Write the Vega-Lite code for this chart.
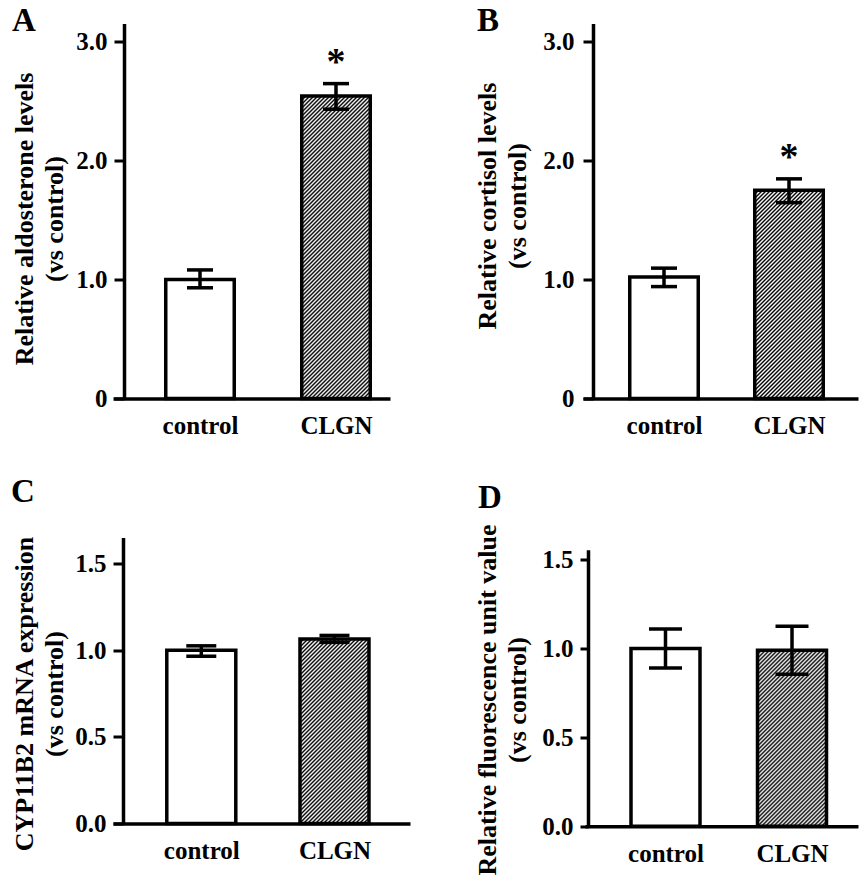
{
"$schema":"https://vega.github.io/schema/vega-lite/v6.json",
"background":"white",
"padding":{"left":11,"top":4.5,"right":5,"bottom":5},
"params":[{"name":"hatch","value":[
{"offset":0,"color":"#000"},{"offset":0.005,"color":"#fff"},{"offset":0.01,"color":"#000"},{"offset":0.015,"color":"#fff"},{"offset":0.02,"color":"#000"},{"offset":0.025,"color":"#fff"},{"offset":0.03,"color":"#000"},{"offset":0.035,"color":"#fff"},{"offset":0.04,"color":"#000"},{"offset":0.045,"color":"#fff"},
{"offset":0.05,"color":"#000"},{"offset":0.055,"color":"#fff"},{"offset":0.06,"color":"#000"},{"offset":0.065,"color":"#fff"},{"offset":0.07,"color":"#000"},{"offset":0.075,"color":"#fff"},{"offset":0.08,"color":"#000"},{"offset":0.085,"color":"#fff"},{"offset":0.09,"color":"#000"},{"offset":0.095,"color":"#fff"},
{"offset":0.1,"color":"#000"},{"offset":0.105,"color":"#fff"},{"offset":0.11,"color":"#000"},{"offset":0.115,"color":"#fff"},{"offset":0.12,"color":"#000"},{"offset":0.125,"color":"#fff"},{"offset":0.13,"color":"#000"},{"offset":0.135,"color":"#fff"},{"offset":0.14,"color":"#000"},{"offset":0.145,"color":"#fff"},
{"offset":0.15,"color":"#000"},{"offset":0.155,"color":"#fff"},{"offset":0.16,"color":"#000"},{"offset":0.165,"color":"#fff"},{"offset":0.17,"color":"#000"},{"offset":0.175,"color":"#fff"},{"offset":0.18,"color":"#000"},{"offset":0.185,"color":"#fff"},{"offset":0.19,"color":"#000"},{"offset":0.195,"color":"#fff"},
{"offset":0.2,"color":"#000"},{"offset":0.205,"color":"#fff"},{"offset":0.21,"color":"#000"},{"offset":0.215,"color":"#fff"},{"offset":0.22,"color":"#000"},{"offset":0.225,"color":"#fff"},{"offset":0.23,"color":"#000"},{"offset":0.235,"color":"#fff"},{"offset":0.24,"color":"#000"},{"offset":0.245,"color":"#fff"},
{"offset":0.25,"color":"#000"},{"offset":0.255,"color":"#fff"},{"offset":0.26,"color":"#000"},{"offset":0.265,"color":"#fff"},{"offset":0.27,"color":"#000"},{"offset":0.275,"color":"#fff"},{"offset":0.28,"color":"#000"},{"offset":0.285,"color":"#fff"},{"offset":0.29,"color":"#000"},{"offset":0.295,"color":"#fff"},
{"offset":0.3,"color":"#000"},{"offset":0.305,"color":"#fff"},{"offset":0.31,"color":"#000"},{"offset":0.315,"color":"#fff"},{"offset":0.32,"color":"#000"},{"offset":0.325,"color":"#fff"},{"offset":0.33,"color":"#000"},{"offset":0.335,"color":"#fff"},{"offset":0.34,"color":"#000"},{"offset":0.345,"color":"#fff"},
{"offset":0.35,"color":"#000"},{"offset":0.355,"color":"#fff"},{"offset":0.36,"color":"#000"},{"offset":0.365,"color":"#fff"},{"offset":0.37,"color":"#000"},{"offset":0.375,"color":"#fff"},{"offset":0.38,"color":"#000"},{"offset":0.385,"color":"#fff"},{"offset":0.39,"color":"#000"},{"offset":0.395,"color":"#fff"},
{"offset":0.4,"color":"#000"},{"offset":0.405,"color":"#fff"},{"offset":0.41,"color":"#000"},{"offset":0.415,"color":"#fff"},{"offset":0.42,"color":"#000"},{"offset":0.425,"color":"#fff"},{"offset":0.43,"color":"#000"},{"offset":0.435,"color":"#fff"},{"offset":0.44,"color":"#000"},{"offset":0.445,"color":"#fff"},
{"offset":0.45,"color":"#000"},{"offset":0.455,"color":"#fff"},{"offset":0.46,"color":"#000"},{"offset":0.465,"color":"#fff"},{"offset":0.47,"color":"#000"},{"offset":0.475,"color":"#fff"},{"offset":0.48,"color":"#000"},{"offset":0.485,"color":"#fff"},{"offset":0.49,"color":"#000"},{"offset":0.495,"color":"#fff"},
{"offset":0.5,"color":"#000"},{"offset":0.505,"color":"#fff"},{"offset":0.51,"color":"#000"},{"offset":0.515,"color":"#fff"},{"offset":0.52,"color":"#000"},{"offset":0.525,"color":"#fff"},{"offset":0.53,"color":"#000"},{"offset":0.535,"color":"#fff"},{"offset":0.54,"color":"#000"},{"offset":0.545,"color":"#fff"},
{"offset":0.55,"color":"#000"},{"offset":0.555,"color":"#fff"},{"offset":0.56,"color":"#000"},{"offset":0.565,"color":"#fff"},{"offset":0.57,"color":"#000"},{"offset":0.575,"color":"#fff"},{"offset":0.58,"color":"#000"},{"offset":0.585,"color":"#fff"},{"offset":0.59,"color":"#000"},{"offset":0.595,"color":"#fff"},
{"offset":0.6,"color":"#000"},{"offset":0.605,"color":"#fff"},{"offset":0.61,"color":"#000"},{"offset":0.615,"color":"#fff"},{"offset":0.62,"color":"#000"},{"offset":0.625,"color":"#fff"},{"offset":0.63,"color":"#000"},{"offset":0.635,"color":"#fff"},{"offset":0.64,"color":"#000"},{"offset":0.645,"color":"#fff"},
{"offset":0.65,"color":"#000"},{"offset":0.655,"color":"#fff"},{"offset":0.66,"color":"#000"},{"offset":0.665,"color":"#fff"},{"offset":0.67,"color":"#000"},{"offset":0.675,"color":"#fff"},{"offset":0.68,"color":"#000"},{"offset":0.685,"color":"#fff"},{"offset":0.69,"color":"#000"},{"offset":0.695,"color":"#fff"},
{"offset":0.7,"color":"#000"},{"offset":0.705,"color":"#fff"},{"offset":0.71,"color":"#000"},{"offset":0.715,"color":"#fff"},{"offset":0.72,"color":"#000"},{"offset":0.725,"color":"#fff"},{"offset":0.73,"color":"#000"},{"offset":0.735,"color":"#fff"},{"offset":0.74,"color":"#000"},{"offset":0.745,"color":"#fff"},
{"offset":0.75,"color":"#000"},{"offset":0.755,"color":"#fff"},{"offset":0.76,"color":"#000"},{"offset":0.765,"color":"#fff"},{"offset":0.77,"color":"#000"},{"offset":0.775,"color":"#fff"},{"offset":0.78,"color":"#000"},{"offset":0.785,"color":"#fff"},{"offset":0.79,"color":"#000"},{"offset":0.795,"color":"#fff"},
{"offset":0.8,"color":"#000"},{"offset":0.805,"color":"#fff"},{"offset":0.81,"color":"#000"},{"offset":0.815,"color":"#fff"},{"offset":0.82,"color":"#000"},{"offset":0.825,"color":"#fff"},{"offset":0.83,"color":"#000"},{"offset":0.835,"color":"#fff"},{"offset":0.84,"color":"#000"},{"offset":0.845,"color":"#fff"},
{"offset":0.85,"color":"#000"},{"offset":0.855,"color":"#fff"},{"offset":0.86,"color":"#000"},{"offset":0.865,"color":"#fff"},{"offset":0.87,"color":"#000"},{"offset":0.875,"color":"#fff"},{"offset":0.88,"color":"#000"},{"offset":0.885,"color":"#fff"},{"offset":0.89,"color":"#000"},{"offset":0.895,"color":"#fff"},
{"offset":0.9,"color":"#000"},{"offset":0.905,"color":"#fff"},{"offset":0.91,"color":"#000"},{"offset":0.915,"color":"#fff"},{"offset":0.92,"color":"#000"},{"offset":0.925,"color":"#fff"},{"offset":0.93,"color":"#000"}
]}],
"config":{
"font":"Liberation Serif",
"view":{"stroke":null},
"axis":{"labelFont":"Liberation Serif","labelFontWeight":"bold","labelFontSize":25,"labelColor":"black","titleFont":"Liberation Serif","titleFontWeight":"bold","titleFontSize":26,"titleColor":"black","domainColor":"black","domainWidth":3.5,"tickColor":"black","tickWidth":3,"grid":false},
"axisX":{"ticks":false,"labelPadding":35,"labelBaseline":"alphabetic","labelAngle":0,"title":null},
"axisY":{"labelPadding":7,"titleAngle":-90,"titleAlign":"center","titleBaseline":"alphabetic","titleLineHeight":30},
"title":{"font":"Liberation Serif","fontSize":33,"fontWeight":"bold","color":"black","anchor":"start","frame":"group","baseline":"alphabetic"}
},
"data":{"values":[
{"panel":"A","group":"control","mean":1.0,"lo":0.93,"hi":1.08,"sig":""},
{"panel":"A","group":"CLGN","mean":2.54,"lo":2.43,"hi":2.645,"sig":"*"},
{"panel":"B","group":"control","mean":1.02,"lo":0.94,"hi":1.095,"sig":""},
{"panel":"B","group":"CLGN","mean":1.75,"lo":1.645,"hi":1.845,"sig":"*"},
{"panel":"C","group":"control","mean":1.0,"lo":0.965,"hi":1.025,"sig":""},
{"panel":"C","group":"CLGN","mean":1.065,"lo":1.045,"hi":1.085,"sig":""},
{"panel":"D","group":"control","mean":1.0,"lo":0.89,"hi":1.11,"sig":""},
{"panel":"D","group":"CLGN","mean":0.99,"lo":0.855,"hi":1.125,"sig":""}
]},
"columns":2,
"align":"none",
"bounds":"flush",
"spacing":{"row":139,"column":173},
"concat":[
{
"title":{"text":"A","dx":-101,"offset":-14.5},
"width":297,"height":375,
"transform":[{"filter":"datum.panel==='A'"}],
"encoding":{"x":{"field":"group","type":"nominal","scale":{"type":"point","domain":["control","CLGN"],"range":[0,277],"padding":0.5184,"align":0.617}}},
"layer":[
{"transform":[{"filter":"datum.group==='control'"}],"mark":{"type":"bar","width":68.5,"fill":"white","stroke":"black","strokeWidth":3.5},
 "encoding":{"y":{"field":"mean","type":"quantitative","scale":{"domain":[0,3.15],"nice":false},
 "axis":{"values":[0,1,2,3],"labelExpr":"datum.value === 0 ? '0' : format(datum.value, '.1f')","offset":-11,"tickSize":10,"title":["Relative aldosterone levels","(vs control)"],"titleX":-91.5,"titleY":195}}}},
{"transform":[{"filter":"datum.group==='CLGN'"}],"mark":{"type":"bar","width":68.5,"fill":{"expr":"{gradient:'linear',x1:0,y1:0,x2:0.28501,y2:1.25819,stops:hatch}"},"stroke":"black","strokeWidth":3.5},
 "encoding":{"y":{"field":"mean","type":"quantitative"}}},
{"mark":{"type":"rule","color":"black","strokeWidth":3.5},"encoding":{"y":{"field":"lo","type":"quantitative"},"y2":{"field":"hi"}}},
{"mark":{"type":"tick","orient":"horizontal","size":26,"thickness":3.5,"color":"black","opacity":1},"encoding":{"y":{"field":"lo","type":"quantitative"}}},
{"mark":{"type":"tick","orient":"horizontal","size":26,"thickness":3.5,"color":"black","opacity":1},"encoding":{"y":{"field":"hi","type":"quantitative"}}},
{"transform":[{"filter":"datum.sig==='*'"}],"mark":{"type":"text","font":"Liberation Serif","fontSize":38,"fontWeight":"bold","baseline":"alphabetic","dy":-10,"color":"black"},
 "encoding":{"y":{"field":"hi","type":"quantitative"},"text":{"field":"sig"}}}
]
},
{
"title":{"text":"B","dx":-106,"offset":-14.5},
"width":275,"height":375,
"transform":[{"filter":"datum.panel==='B'"}],
"encoding":{"x":{"field":"group","type":"nominal","scale":{"type":"point","domain":["control","CLGN"],"range":[0,275],"padding":0.6,"align":0.54}}},
"layer":[
{"transform":[{"filter":"datum.group==='control'"}],"mark":{"type":"bar","width":68.5,"fill":"white","stroke":"black","strokeWidth":3.5},
 "encoding":{"y":{"field":"mean","type":"quantitative","scale":{"domain":[0,3.15],"nice":false},
 "axis":{"values":[0,1,2,3],"labelExpr":"datum.value === 0 ? '0' : format(datum.value, '.1f')","offset":-10,"tickSize":10,"labelPadding":9,"title":["Relative cortisol levels","(vs control)"],"titleX":-97.5,"titleY":182}}}},
{"transform":[{"filter":"datum.group==='CLGN'"}],"mark":{"type":"bar","width":68.5,"fill":{"expr":"{gradient:'linear',x1:0,y1:0,x2:0.56987,y2:1.73291,stops:hatch}"},"stroke":"black","strokeWidth":3.5},
 "encoding":{"y":{"field":"mean","type":"quantitative"}}},
{"mark":{"type":"rule","color":"black","strokeWidth":3.5},"encoding":{"y":{"field":"lo","type":"quantitative"},"y2":{"field":"hi"}}},
{"mark":{"type":"tick","orient":"horizontal","size":26,"thickness":3.5,"color":"black","opacity":1},"encoding":{"y":{"field":"lo","type":"quantitative"}}},
{"mark":{"type":"tick","orient":"horizontal","size":26,"thickness":3.5,"color":"black","opacity":1},"encoding":{"y":{"field":"hi","type":"quantitative"}}},
{"transform":[{"filter":"datum.sig==='*'"}],"mark":{"type":"text","font":"Liberation Serif","fontSize":38,"fontWeight":"bold","baseline":"alphabetic","dy":-10,"color":"black"},
 "encoding":{"y":{"field":"hi","type":"quantitative"},"text":{"field":"sig"}}}
]
},
{
"title":{"text":"C","dx":-102,"offset":27},
"width":297,"height":286,
"transform":[{"filter":"datum.panel==='C'"}],
"encoding":{"x":{"field":"group","type":"nominal","scale":{"type":"point","domain":["control","CLGN"],"range":[0,297],"padding":0.6149,"align":0.539}}},
"layer":[
{"transform":[{"filter":"datum.group==='control'"}],"mark":{"type":"bar","width":69,"fill":"white","stroke":"black","strokeWidth":3.5},
 "encoding":{"y":{"field":"mean","type":"quantitative","scale":{"domain":[0,1.65],"nice":false},
 "axis":{"values":[0,0.5,1,1.5],"format":".1f","offset":-10,"tickSize":10,"title":["CYP11B2 mRNA expression","(vs control)"],"titleX":-90.5,"titleY":156}}}},
{"transform":[{"filter":"datum.group==='CLGN'"}],"mark":{"type":"bar","width":69,"fill":{"expr":"{gradient:'linear',x1:0,y1:0,x2:0.71064,y2:1.90122,stops:hatch}"},"stroke":"black","strokeWidth":3.5},
 "encoding":{"y":{"field":"mean","type":"quantitative"}}},
{"mark":{"type":"rule","color":"black","strokeWidth":3.5},"encoding":{"y":{"field":"lo","type":"quantitative"},"y2":{"field":"hi"}}},
{"mark":{"type":"tick","orient":"horizontal","size":30,"thickness":3.5,"color":"black","opacity":1},"encoding":{"y":{"field":"lo","type":"quantitative"}}},
{"mark":{"type":"tick","orient":"horizontal","size":30,"thickness":3.5,"color":"black","opacity":1},"encoding":{"y":{"field":"hi","type":"quantitative"}}}
]
},
{
"title":{"text":"D","dx":-105,"offset":9},
"width":275,"height":288.7,
"transform":[{"filter":"datum.panel==='D'"}],
"encoding":{"x":{"field":"group","type":"nominal","scale":{"type":"point","domain":["control","CLGN"],"range":[2,275],"padding":0.579,"align":0.5495}}},
"layer":[
{"transform":[{"filter":"datum.group==='control'"}],"mark":{"type":"bar","width":69,"fill":"white","stroke":"black","strokeWidth":3.5},
 "encoding":{"y":{"field":"mean","type":"quantitative","scale":{"domain":[0,1.555],"nice":false,"range":[288.7,12.3]},
 "axis":{"values":[0,0.5,1,1.5],"format":".1f","offset":-5,"tickSize":8,"title":["Relative fluorescence unit value","(vs control)"],"titleX":-92.5,"titleY":162}}}},
{"transform":[{"filter":"datum.group==='CLGN'"}],"mark":{"type":"bar","width":69,"fill":{"expr":"{gradient:'linear',x1:0,y1:0,x2:0.77231,y2:1.96995,stops:hatch}"},"stroke":"black","strokeWidth":3.5},
 "encoding":{"y":{"field":"mean","type":"quantitative"}}},
{"mark":{"type":"rule","color":"black","strokeWidth":3.5},"encoding":{"y":{"field":"lo","type":"quantitative"},"y2":{"field":"hi"}}},
{"mark":{"type":"tick","orient":"horizontal","size":33,"thickness":3.5,"color":"black","opacity":1},"encoding":{"y":{"field":"lo","type":"quantitative"}}},
{"mark":{"type":"tick","orient":"horizontal","size":33,"thickness":3.5,"color":"black","opacity":1},"encoding":{"y":{"field":"hi","type":"quantitative"}}}
]
}
]
}
